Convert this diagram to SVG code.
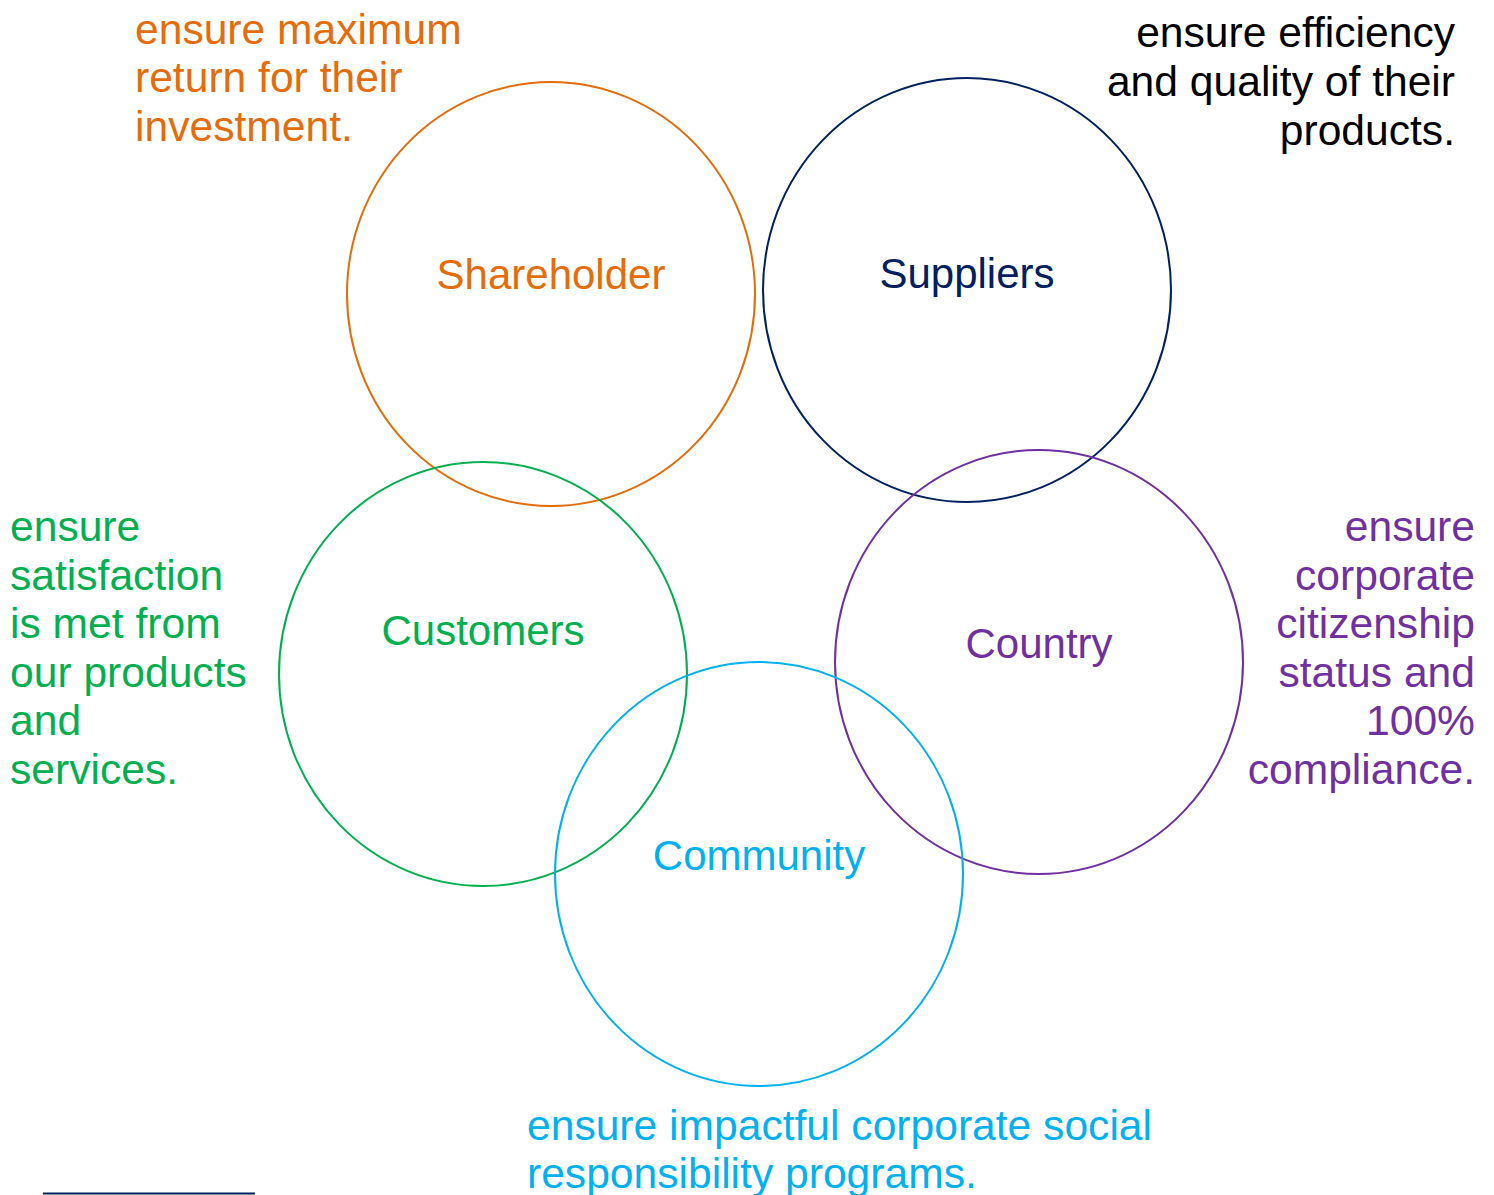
<svg xmlns="http://www.w3.org/2000/svg" width="1494" height="1195" viewBox="0 0 1494 1195">
  <style>
    text { font-family: "Liberation Sans", Arial, sans-serif; font-size: 42px; }
    .note { font-size: 42.6px; }
    .ring { fill: none; stroke-width: 2; }
    .label { text-anchor: middle; }
    .end { text-anchor: end; }
    .orange { fill: #E46C0A; }
    .navy { fill: #002060; }
    .green { fill: #00B050; }
    .purple { fill: #7030A0; }
    .blue { fill: #00B0F0; }
    .black { fill: #000000; }
  </style>
  <rect width="1494" height="1195" fill="#FFFFFF"/>

  <g id="shareholder">
    <ellipse class="ring" cx="551" cy="294" rx="204" ry="212" stroke="#E46C0A"/>
    <text class="label orange" x="551" y="289">Shareholder</text>
  </g>

  <g id="suppliers">
    <ellipse class="ring" cx="967" cy="290" rx="204" ry="212" stroke="#002060"/>
    <text class="label navy" x="967" y="288">Suppliers</text>
  </g>

  <g id="customers">
    <ellipse class="ring" cx="483" cy="674" rx="204" ry="212" stroke="#00B050"/>
    <text class="label green" x="483" y="645">Customers</text>
  </g>

  <g id="country">
    <ellipse class="ring" cx="1039" cy="662" rx="204" ry="212" stroke="#7030A0"/>
    <text class="label purple" x="1039" y="658">Country</text>
  </g>

  <g id="community">
    <ellipse class="ring" cx="759" cy="874" rx="204" ry="212" stroke="#00B0F0"/>
    <text class="label blue" x="759" y="870">Community</text>
  </g>

  <!-- side notes; one text element per line so end-anchored lines align cleanly -->
  <g id="notes">
    <g>
      <text class="note orange" x="135" y="44">ensure maximum</text>
      <text class="note orange" x="135" y="92">return for their</text>
      <text class="note orange" x="135" y="141">investment.</text>
    </g>
    <g>
      <text class="note end black" x="1455" y="47">ensure efficiency</text>
      <text class="note end black" x="1455" y="96">and quality of their</text>
      <text class="note end black" x="1455" y="145">products.</text>
    </g>
    <g>
      <text class="note green" x="10" y="541">ensure</text>
      <text class="note green" x="10" y="590">satisfaction</text>
      <text class="note green" x="10" y="638">is met from</text>
      <text class="note green" x="10" y="687">our products</text>
      <text class="note green" x="10" y="735">and</text>
      <text class="note green" x="10" y="784">services.</text>
    </g>
    <g>
      <text class="note end purple" x="1475" y="541">ensure</text>
      <text class="note end purple" x="1475" y="590">corporate</text>
      <text class="note end purple" x="1475" y="638">citizenship</text>
      <text class="note end purple" x="1475" y="687">status and</text>
      <text class="note end purple" x="1475" y="735">100%</text>
      <text class="note end purple" x="1475" y="784">compliance.</text>
    </g>
    <g>
      <text class="note blue" x="527" y="1140">ensure impactful corporate social</text>
      <text class="note blue" x="527" y="1188">responsibility programs.</text>
    </g>
  </g>

  <g id="connectors"></g>

  <line x1="43" y1="1193.5" x2="255" y2="1193.5" stroke="#002060" stroke-width="2"/>
</svg>
